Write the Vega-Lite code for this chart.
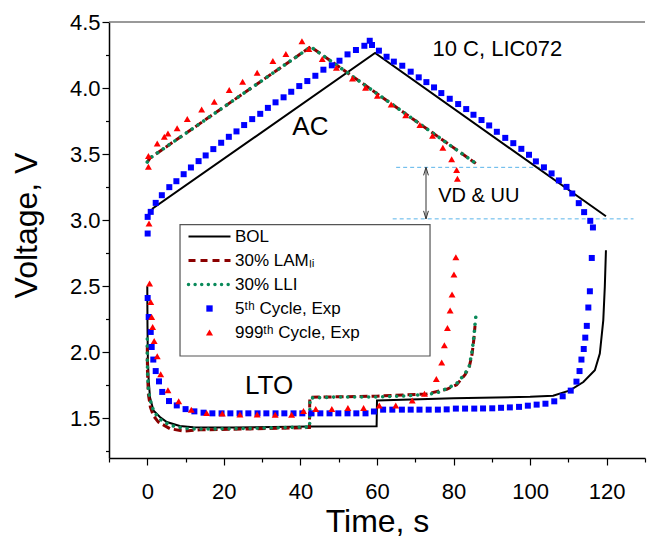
{
  "$schema": "https://vega.github.io/schema/vega-lite/v6.json",
  "width": 536,
  "height": 436,
  "autosize": "none",
  "padding": {"left": 109, "top": 22, "right": 6, "bottom": 82},
  "config": {
    "font": "Liberation Sans",
    "view": {"stroke": null},
    "axis": {"grid": false, "domainColor": "black", "tickColor": "black", "labelColor": "black", "titleColor": "black", "domainWidth": 1.5, "tickWidth": 1.2, "labelFontSize": 22, "titleFontSize": 32, "titleFontWeight": "normal", "labelFlush": false, "labelOverlap": false}
  },
  "datasets": {
    "curves": [
      {"s":"BOL","p":"a","t":0,"v":3.03},{"s":"BOL","p":"a","t":1.5,"v":3.09},{"s":"BOL","p":"a","t":59.5,"v":4.265},{"s":"BOL","p":"a","t":119.8,"v":3.03},
      {"s":"BOL","p":"l","t":0,"v":2.5},{"s":"BOL","p":"l","t":0.05,"v":2.2},{"s":"BOL","p":"l","t":0.15,"v":1.95},{"s":"BOL","p":"l","t":0.35,"v":1.8},{"s":"BOL","p":"l","t":0.7,"v":1.66},{"s":"BOL","p":"l","t":1.6,"v":1.56},{"s":"BOL","p":"l","t":3.3,"v":1.51},{"s":"BOL","p":"l","t":5.1,"v":1.472},{"s":"BOL","p":"l","t":8.5,"v":1.442},{"s":"BOL","p":"l","t":12,"v":1.432},{"s":"BOL","p":"l","t":22.5,"v":1.43},{"s":"BOL","p":"l","t":42.3,"v":1.438},{"s":"BOL","p":"l","t":59.9,"v":1.44},{"s":"BOL","p":"l","t":60,"v":1.636},{"s":"BOL","p":"l","t":80,"v":1.652},{"s":"BOL","p":"l","t":100,"v":1.663},{"s":"BOL","p":"l","t":106,"v":1.672},{"s":"BOL","p":"l","t":110.4,"v":1.712},{"s":"BOL","p":"l","t":113.9,"v":1.775},{"s":"BOL","p":"l","t":116.9,"v":1.864},{"s":"BOL","p":"l","t":118.2,"v":1.99},{"s":"BOL","p":"l","t":119.1,"v":2.242},{"s":"BOL","p":"l","t":119.5,"v":2.495},{"s":"BOL","p":"l","t":119.8,"v":2.773},
      {"s":"LAM","p":"a","t":0,"v":3.44},{"s":"LAM","p":"a","t":0.7,"v":3.47},{"s":"LAM","p":"a","t":42.7,"v":4.312},{"s":"LAM","p":"a","t":85.8,"v":3.43},
      {"s":"LAM","p":"l","t":0,"v":2.05},{"s":"LAM","p":"l","t":0.05,"v":1.85},{"s":"LAM","p":"l","t":0.3,"v":1.68},{"s":"LAM","p":"l","t":0.8,"v":1.586},{"s":"LAM","p":"l","t":1.6,"v":1.52},{"s":"LAM","p":"l","t":2.9,"v":1.472},{"s":"LAM","p":"l","t":5.9,"v":1.422},{"s":"LAM","p":"l","t":9.4,"v":1.404},{"s":"LAM","p":"l","t":13.8,"v":1.413},{"s":"LAM","p":"l","t":26.8,"v":1.42},{"s":"LAM","p":"l","t":41.6,"v":1.43},{"s":"LAM","p":"l","t":42.35,"v":1.43},{"s":"LAM","p":"l","t":42.45,"v":1.66},{"s":"LAM","p":"l","t":60,"v":1.668},{"s":"LAM","p":"l","t":73,"v":1.685},{"s":"LAM","p":"l","t":78.2,"v":1.72},{"s":"LAM","p":"l","t":80.8,"v":1.755},{"s":"LAM","p":"l","t":83,"v":1.83},{"s":"LAM","p":"l","t":84.1,"v":1.89},{"s":"LAM","p":"l","t":84.8,"v":1.98},{"s":"LAM","p":"l","t":85.3,"v":2.1},{"s":"LAM","p":"l","t":85.6,"v":2.2},
      {"s":"LLI","p":"a","t":0,"v":3.44},{"s":"LLI","p":"a","t":0.7,"v":3.47},{"s":"LLI","p":"a","t":42.7,"v":4.312},{"s":"LLI","p":"a","t":85.8,"v":3.43},
      {"s":"LLI","p":"l","t":0,"v":2.1},{"s":"LLI","p":"l","t":0.02,"v":1.94},{"s":"LLI","p":"l","t":0.1,"v":1.813},{"s":"LLI","p":"l","t":0.35,"v":1.7},{"s":"LLI","p":"l","t":0.96,"v":1.616},{"s":"LLI","p":"l","t":1.75,"v":1.548},{"s":"LLI","p":"l","t":3.5,"v":1.49},{"s":"LLI","p":"l","t":5.9,"v":1.449},{"s":"LLI","p":"l","t":9.4,"v":1.424},{"s":"LLI","p":"l","t":13.8,"v":1.419},{"s":"LLI","p":"l","t":26.8,"v":1.424},{"s":"LLI","p":"l","t":41.6,"v":1.434},{"s":"LLI","p":"l","t":42.4,"v":1.434},{"s":"LLI","p":"l","t":42.5,"v":1.654},{"s":"LLI","p":"l","t":48.6,"v":1.661},{"s":"LLI","p":"l","t":60,"v":1.662},{"s":"LLI","p":"l","t":66.9,"v":1.669},{"s":"LLI","p":"l","t":73,"v":1.682},{"s":"LLI","p":"l","t":75.6,"v":1.692},{"s":"LLI","p":"l","t":78.2,"v":1.725},{"s":"LLI","p":"l","t":80.8,"v":1.763},{"s":"LLI","p":"l","t":83,"v":1.839},{"s":"LLI","p":"l","t":84.1,"v":1.894},{"s":"LLI","p":"l","t":84.8,"v":2.002},{"s":"LLI","p":"l","t":85.3,"v":2.116},{"s":"LLI","p":"l","t":85.7,"v":2.242},{"s":"LLI","p":"l","t":85.9,"v":2.288}
    ],
    "pts": [
      {"s":"C5","t":0.1,"v":2.899},{"s":"C5","t":0.1,"v":3.025},{"s":"C5","t":0.9,"v":3.063},{"s":"C5","t":2.2,"v":3.131},{"s":"C5","t":3.8,"v":3.189},{"s":"C5","t":5.75,"v":3.25},{"s":"C5","t":7.6,"v":3.295},{"s":"C5","t":9.5,"v":3.348},{"s":"C5","t":11.4,"v":3.399},{"s":"C5","t":13.4,"v":3.447},{"s":"C5","t":15.25,"v":3.49},{"s":"C5","t":17.25,"v":3.538},{"s":"C5","t":19.3,"v":3.586},{"s":"C5","t":21.3,"v":3.631},{"s":"C5","t":23.3,"v":3.672},{"s":"C5","t":25.3,"v":3.72},{"s":"C5","t":27.4,"v":3.765},{"s":"C5","t":29.5,"v":3.805},{"s":"C5","t":31.5,"v":3.85},{"s":"C5","t":33.5,"v":3.892},{"s":"C5","t":35.6,"v":3.93},{"s":"C5","t":37.6,"v":3.972},{"s":"C5","t":39.7,"v":4.015},{"s":"C5","t":41.8,"v":4.053},{"s":"C5","t":43.9,"v":4.093},{"s":"C5","t":46,"v":4.139},{"s":"C5","t":48.2,"v":4.172},{"s":"C5","t":50.2,"v":4.207},{"s":"C5","t":52.3,"v":4.255},{"s":"C5","t":54.5,"v":4.288},{"s":"C5","t":56.7,"v":4.32},{"s":"C5","t":58.1,"v":4.358},{"s":"C5","t":58.7,"v":4.326},{"s":"C5","t":60.5,"v":4.283},{"s":"C5","t":62.5,"v":4.237},{"s":"C5","t":64.4,"v":4.2},{"s":"C5","t":66.6,"v":4.169},{"s":"C5","t":68.8,"v":4.124},{"s":"C5","t":70.9,"v":4.081},{"s":"C5","t":72.9,"v":4.045},{"s":"C5","t":74.9,"v":4.005},{"s":"C5","t":76.8,"v":3.962},{"s":"C5","t":79,"v":3.919},{"s":"C5","t":81.2,"v":3.879},{"s":"C5","t":83.3,"v":3.841},{"s":"C5","t":85.2,"v":3.798},{"s":"C5","t":87.3,"v":3.758},{"s":"C5","t":89.3,"v":3.717},{"s":"C5","t":91.3,"v":3.669},{"s":"C5","t":93.5,"v":3.623},{"s":"C5","t":95.6,"v":3.583},{"s":"C5","t":97.7,"v":3.54},{"s":"C5","t":99.7,"v":3.495},{"s":"C5","t":101.5,"v":3.445},{"s":"C5","t":103.6,"v":3.4},{"s":"C5","t":105.6,"v":3.354},{"s":"C5","t":107.5,"v":3.301},{"s":"C5","t":109.5,"v":3.252},{"s":"C5","t":111,"v":3.202},{"s":"C5","t":112.7,"v":3.129},{"s":"C5","t":114.1,"v":3.061},{"s":"C5","t":115.7,"v":2.995},{"s":"C5","t":116.4,"v":2.945},
      {"s":"C5","t":0.1,"v":2.411},{"s":"C5","t":0.37,"v":2.267},{"s":"C5","t":0.9,"v":2.154},{"s":"C5","t":1.15,"v":2.04},{"s":"C5","t":1.57,"v":1.945},{"s":"C5","t":2.2,"v":1.858},{"s":"C5","t":3.06,"v":1.78},{"s":"C5","t":3.9,"v":1.7},{"s":"C5","t":5.67,"v":1.631},{"s":"C5","t":7.7,"v":1.598},{"s":"C5","t":10,"v":1.57},{"s":"C5","t":12.3,"v":1.553},{"s":"C5","t":14.7,"v":1.543},{"s":"C5","t":17,"v":1.538},{"s":"C5","t":19.4,"v":1.538},{"s":"C5","t":21.7,"v":1.538},{"s":"C5","t":24.1,"v":1.538},{"s":"C5","t":26.4,"v":1.538},{"s":"C5","t":28.8,"v":1.538},{"s":"C5","t":31.1,"v":1.538},{"s":"C5","t":33.5,"v":1.538},{"s":"C5","t":35.8,"v":1.538},{"s":"C5","t":38.2,"v":1.538},{"s":"C5","t":40.5,"v":1.538},{"s":"C5","t":42.9,"v":1.538},{"s":"C5","t":45.2,"v":1.538},{"s":"C5","t":47.6,"v":1.538},{"s":"C5","t":49.9,"v":1.538},{"s":"C5","t":52.3,"v":1.538},{"s":"C5","t":54.6,"v":1.538},{"s":"C5","t":57,"v":1.538},{"s":"C5","t":59.2,"v":1.552},{"s":"C5","t":61.6,"v":1.566},{"s":"C5","t":64,"v":1.566},{"s":"C5","t":66.5,"v":1.566},{"s":"C5","t":68.8,"v":1.566},{"s":"C5","t":71.1,"v":1.566},{"s":"C5","t":73.5,"v":1.566},{"s":"C5","t":75.9,"v":1.566},{"s":"C5","t":78.2,"v":1.568},{"s":"C5","t":80.6,"v":1.574},{"s":"C5","t":83,"v":1.574},{"s":"C5","t":85.4,"v":1.574},{"s":"C5","t":87.7,"v":1.575},{"s":"C5","t":90.1,"v":1.576},{"s":"C5","t":92.4,"v":1.58},{"s":"C5","t":94.7,"v":1.583},{"s":"C5","t":97.1,"v":1.587},{"s":"C5","t":99.4,"v":1.596},{"s":"C5","t":101.7,"v":1.604},{"s":"C5","t":104,"v":1.611},{"s":"C5","t":106.3,"v":1.629},{"s":"C5","t":108.5,"v":1.667},{"s":"C5","t":110.6,"v":1.71},{"s":"C5","t":112.1,"v":1.778},{"s":"C5","t":112.9,"v":1.858},{"s":"C5","t":113.4,"v":1.945},{"s":"C5","t":114,"v":2.025},{"s":"C5","t":114.4,"v":2.111},{"s":"C5","t":114.8,"v":2.2},{"s":"C5","t":115.2,"v":2.339},{"s":"C5","t":115.6,"v":2.462},{"s":"C5","t":116.1,"v":2.714},
      {"s":"C999","t":0.3,"v":3.404},{"s":"C999","t":0.3,"v":3.485},{"s":"C999","t":2.6,"v":3.581},{"s":"C999","t":4.45,"v":3.631},{"s":"C999","t":5.4,"v":3.657},{"s":"C999","t":7.8,"v":3.695},{"s":"C999","t":10.45,"v":3.765},{"s":"C999","t":14.2,"v":3.838},{"s":"C999","t":17.5,"v":3.896},{"s":"C999","t":21.4,"v":3.985},{"s":"C999","t":24.9,"v":4.048},{"s":"C999","t":28.7,"v":4.116},{"s":"C999","t":32.8,"v":4.205},{"s":"C999","t":36.2,"v":4.258},{"s":"C999","t":40.4,"v":4.354},{"s":"C999","t":42.2,"v":4.295},{"s":"C999","t":45.7,"v":4.22},{"s":"C999","t":49.4,"v":4.154},{"s":"C999","t":53.6,"v":4.073},{"s":"C999","t":57,"v":4.002},{"s":"C999","t":60.1,"v":3.942},{"s":"C999","t":63.7,"v":3.876},{"s":"C999","t":67.5,"v":3.795},{"s":"C999","t":71.2,"v":3.72},{"s":"C999","t":74.5,"v":3.639},{"s":"C999","t":77.2,"v":3.548},{"s":"C999","t":79.5,"v":3.462},{"s":"C999","t":80.8,"v":3.379},{"s":"C999","t":81,"v":3.313},
      {"s":"C999","t":0.45,"v":2.975},{"s":"C999","t":0.6,"v":2.52},{"s":"C999","t":0.9,"v":2.381},{"s":"C999","t":1.15,"v":2.267},{"s":"C999","t":1.4,"v":2.192},{"s":"C999","t":1.8,"v":2.086},{"s":"C999","t":2.6,"v":1.97},{"s":"C999","t":3.5,"v":1.833},{"s":"C999","t":5.4,"v":1.712},{"s":"C999","t":8.2,"v":1.629},{"s":"C999","t":11.5,"v":1.566},{"s":"C999","t":15.5,"v":1.54},{"s":"C999","t":19.6,"v":1.536},{"s":"C999","t":24.2,"v":1.53},{"s":"C999","t":28.7,"v":1.53},{"s":"C999","t":33.4,"v":1.528},{"s":"C999","t":37.7,"v":1.528},{"s":"C999","t":40.8,"v":1.555},{"s":"C999","t":44,"v":1.57},{"s":"C999","t":48.2,"v":1.57},{"s":"C999","t":52.4,"v":1.578},{"s":"C999","t":56.5,"v":1.578},{"s":"C999","t":60.6,"v":1.598},{"s":"C999","t":64.9,"v":1.598},{"s":"C999","t":69.2,"v":1.636},{"s":"C999","t":72.4,"v":1.687},{"s":"C999","t":75.5,"v":1.798},{"s":"C999","t":76.9,"v":1.922},{"s":"C999","t":77.6,"v":2.053},{"s":"C999","t":78.4,"v":2.184},{"s":"C999","t":79.1,"v":2.316},{"s":"C999","t":79.6,"v":2.437},{"s":"C999","t":80.1,"v":2.589},{"s":"C999","t":80.6,"v":2.72}
    ],
    "ann": [
      {"k":"box","t":8.55,"t2":73.85,"v":2.966,"v2":1.972},
      {"k":"top","t":-10,"t2":130,"v":4.5},
      {"k":"dash","t":65,"t2":103.4,"v":3.4},
      {"k":"dash","t":64.1,"t2":127,"v":3.01},
      {"k":"arrow","t":72.8,"v":3.4,"v2":3.01},
      {"k":"up","t":72.8,"v":3.4},
      {"k":"down","t":72.8,"v":3.01}
    ],
    "notes": [
      {"label":"10 C, LIC072","t":74.5,"v":4.245},
      {"label":"AC","t":42.6,"v":3.645},
      {"label":"LTO","t":31.8,"v":1.684},
      {"label":"VD & UU","t":76,"v":3.135}
    ]
  },
  "encoding": {
    "x": {
      "field": "t", "type": "quantitative",
      "scale": {"domain": [-10, 130], "nice": false, "zero": false},
      "axis": {
        "title": "Time, s",
        "values": [-10, 0, 10, 20, 30, 40, 50, 60, 70, 80, 90, 100, 110, 120, 130],
        "labelExpr": "datum.value % 20 === 0 && datum.value >= 0 && datum.value <= 120 ? datum.label : ''",
        "tickSize": {"condition": {"test": "datum.value % 20 === 0", "value": 7}, "value": 4},
        "labelPadding": 16,
        "titleY": 73,
        "titleBaseline": "alphabetic"
      }
    },
    "y": {
      "field": "v", "type": "quantitative",
      "scale": {"domain": [1.2, 4.5], "nice": false, "zero": false},
      "axis": {
        "title": "Voltage, V",
        "values": [1.25, 1.5, 1.75, 2, 2.25, 2.5, 2.75, 3, 3.25, 3.5, 3.75, 4, 4.25, 4.5],
        "labelExpr": "round(datum.value*100) % 50 === 0 ? format(datum.value, '.1f') : ''",
        "tickSize": {"condition": {"test": "round(datum.value*100) % 50 === 0", "value": 7}, "value": 3.5},
        "labelPadding": 2,
        "titleX": -73,
        "titleY": 203,
        "titleBaseline": "alphabetic"
      }
    }
  },
  "layer": [
    {
      "data": {"name": "ann"},
      "transform": [{"filter": "datum.k === 'box'"}],
      "mark": {"type": "rect", "fill": "transparent", "stroke": "#555555", "strokeWidth": 1.2},
      "encoding": {"x2": {"field": "t2"}, "y2": {"field": "v2"}}
    },
    {
      "data": {"name": "ann"},
      "transform": [{"filter": "datum.k === 'top'"}],
      "mark": {"type": "rule", "color": "#777777", "strokeWidth": 1.5},
      "encoding": {"x2": {"field": "t2"}}
    },
    {
      "data": {"name": "ann"},
      "transform": [{"filter": "datum.k === 'dash'"}],
      "mark": {"type": "rule", "color": "#5ab4ea", "strokeWidth": 1, "strokeDash": [4, 3]},
      "encoding": {"x2": {"field": "t2"}}
    },
    {
      "data": {"name": "ann"},
      "transform": [{"filter": "datum.k === 'arrow'"}],
      "mark": {"type": "rule", "color": "#333333", "strokeWidth": 1},
      "encoding": {"y2": {"field": "v2"}}
    },
    {
      "data": {"name": "ann"},
      "transform": [{"filter": "datum.k === 'up'"}],
      "mark": {"type": "point", "shape": "M-0.6,2L0,0L0.6,2", "size": 64, "filled": false, "stroke": "#333333", "strokeWidth": 1, "opacity": 1},
      "encoding": {}
    },
    {
      "data": {"name": "ann"},
      "transform": [{"filter": "datum.k === 'down'"}],
      "mark": {"type": "point", "shape": "M-0.6,-2L0,0L0.6,-2", "size": 64, "filled": false, "stroke": "#333333", "strokeWidth": 1, "opacity": 1},
      "encoding": {}
    },
    {
      "data": {"name": "curves"},
      "transform": [{"filter": "datum.s === 'BOL'"}],
      "mark": {"type": "line", "strokeWidth": 2},
      "encoding": {
        "detail": {"field": "p", "type": "nominal"},
        "color": {
          "field": "s", "type": "nominal",
          "scale": {"domain": ["BOL", "LAM", "LLI", "C5", "C999"], "range": ["#000000", "#8b0000", "#0a8a5a", "#0000ff", "#ff0000"]},
          "legend": {
            "title": null,
            "orient": "none",
            "legendX": 92,
            "legendY": 206,
            "padding": 0,
            "labelFontSize": 17,
            "labelColor": "black",
            "labelOffset": 17,
            "rowPadding": 6,
            "symbolSize": 1764,
            "symbolStrokeWidth": 0,
            "labelExpr": "datum.label == 'LAM' ? '30% LAMₗᵢ' : datum.label == 'LLI' ? '30% LLI' : datum.label == 'C5' ? '5ᵗʰ Cycle, Exp' : datum.label == 'C999' ? '999ᵗʰ Cycle, Exp' : datum.label",
            "encode": {
              "symbols": {
                "update": {
                  "shape": {"signal": "datum.value == 'C5' ? 'square' : datum.value == 'C999' ? 'triangle-up' : 'stroke'"},
                  "size": {"signal": "datum.value == 'C5' ? 40 : datum.value == 'C999' ? 50 : 1764"},
                  "strokeDash": {"signal": "datum.value == 'LAM' ? [7,5] : datum.value == 'LLI' ? [0.01,6.6] : [1,0]"},
                  "strokeWidth": {"signal": "datum.value == 'BOL' ? 2 : datum.value == 'LAM' ? 3 : datum.value == 'LLI' ? 3.5 : 0"},
                  "strokeCap": {"signal": "datum.value == 'LLI' ? 'round' : 'butt'"},
                  "opacity": {"value": 1}
                }
              }
            }
          }
        }
      }
    },
    {
      "data": {"name": "curves"},
      "transform": [{"filter": "datum.s === 'LAM'"}],
      "mark": {"type": "line", "strokeWidth": 3, "strokeDash": [8, 4]},
      "encoding": {"detail": {"field": "p", "type": "nominal"}, "color": {"field": "s", "type": "nominal"}}
    },
    {
      "data": {"name": "curves"},
      "transform": [{"filter": "datum.s === 'LLI'"}],
      "mark": {"type": "line", "strokeWidth": 3.6, "strokeDash": [0.01, 7], "strokeCap": "round"},
      "encoding": {"detail": {"field": "p", "type": "nominal"}, "color": {"field": "s", "type": "nominal"}}
    },
    {
      "data": {"name": "pts"},
      "transform": [{"filter": "datum.s === 'C5'"}],
      "mark": {"type": "point", "shape": "square", "filled": true, "size": 36, "opacity": 1},
      "encoding": {"color": {"field": "s", "type": "nominal"}}
    },
    {
      "data": {"name": "pts"},
      "transform": [{"filter": "datum.s === 'C999'"}],
      "mark": {"type": "point", "shape": "triangle-up", "filled": true, "size": 48, "opacity": 1},
      "encoding": {"color": {"field": "s", "type": "nominal"}}
    },
    {
      "data": {"name": "notes"},
      "transform": [{"filter": "datum.label === '10 C, LIC072'"}],
      "mark": {"type": "text", "fontSize": 22, "align": "left", "baseline": "alphabetic", "color": "black"},
      "encoding": {"text": {"field": "label"}}
    },
    {
      "data": {"name": "notes"},
      "transform": [{"filter": "datum.label === 'AC' || datum.label === 'LTO'"}],
      "mark": {"type": "text", "fontSize": 26, "align": "center", "baseline": "alphabetic", "color": "black"},
      "encoding": {"text": {"field": "label"}}
    },
    {
      "data": {"name": "notes"},
      "transform": [{"filter": "datum.label === 'VD & UU'"}],
      "mark": {"type": "text", "fontSize": 20, "align": "left", "baseline": "alphabetic", "color": "black"},
      "encoding": {"text": {"field": "label"}}
    }
  ]
}
